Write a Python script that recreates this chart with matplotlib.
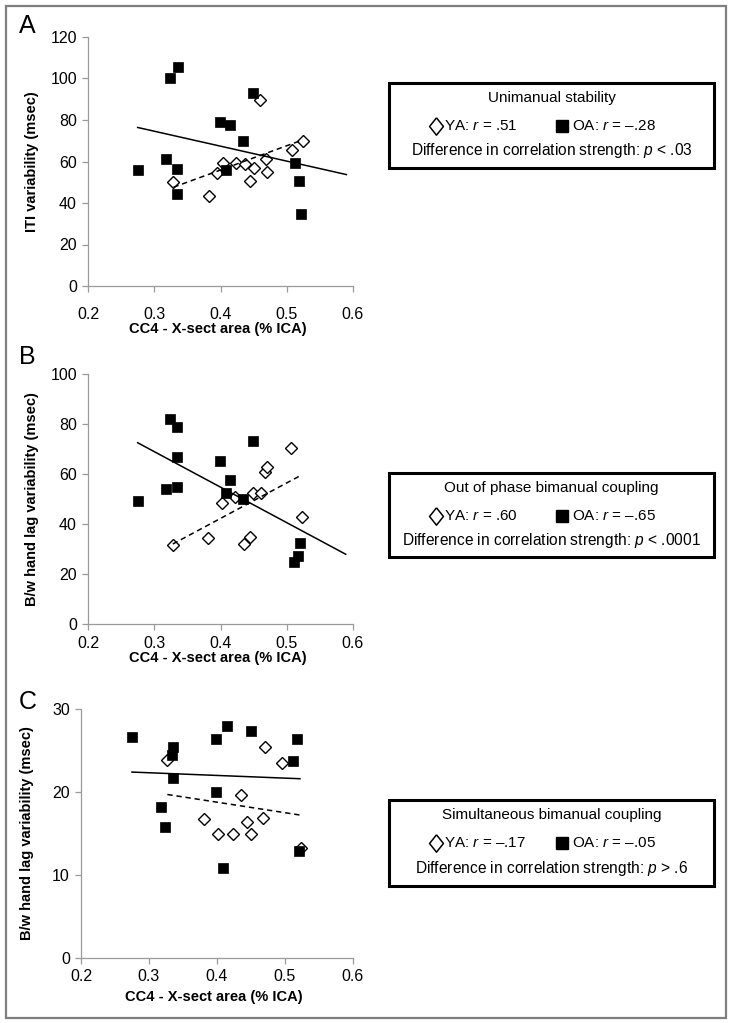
import matplotlib
matplotlib.use("Agg")
import matplotlib.pyplot as plt
from matplotlib.lines import Line2D
from matplotlib.patches import Rectangle

plt.rcParams['font.family'] = ['Liberation Sans', 'DejaVu Sans']
plt.rcParams['mathtext.fontset'] = 'custom'
plt.rcParams['mathtext.rm'] = 'Liberation Sans'
plt.rcParams['mathtext.it'] = 'Liberation Sans:italic'

# ---------------- data ----------------
x_ticks = [0.2, 0.3, 0.4, 0.5, 0.6]
x_tick_labels = ['0.2', '0.3', '0.4', '0.5', '0.6']
x_label = 'CC4 - X-sect area (% ICA)'

# Panel A: ITI variability
A_oa_x = [0.275, 0.324, 0.336, 0.318, 0.335, 0.335, 0.399, 0.414, 0.409, 0.434, 0.449, 0.512, 0.518, 0.521]
A_oa_y = [56.0, 100.2, 105.4, 61.4, 56.5, 44.4, 78.8, 77.4, 55.7, 70.0, 92.8, 59.4, 50.8, 34.7]
A_ya_x = [0.328, 0.383, 0.395, 0.404, 0.423, 0.437, 0.445, 0.451, 0.460, 0.468, 0.470, 0.508, 0.524]
A_ya_y = [49.9, 43.4, 54.4, 59.4, 59.4, 59.0, 50.8, 57.1, 89.4, 61.1, 54.9, 65.5, 69.8]
A_oa_fit_x = [0.275, 0.590]
A_oa_fit_y = [76.4, 53.7]
A_ya_fit_x = [0.329, 0.524]
A_ya_fit_y = [47.6, 70.4]
A_yticks = [0, 20, 40, 60, 80, 100, 120]

# Panel B: out of phase lag variability
B_oa_x = [0.275, 0.324, 0.335, 0.335, 0.318, 0.334, 0.399, 0.415, 0.408, 0.434, 0.449, 0.5115, 0.5165, 0.520]
B_oa_y = [49.2, 82.1, 78.7, 66.9, 54.0, 54.9, 65.3, 57.5, 52.3, 50.1, 73.1, 24.7, 27.3, 32.5]
B_ya_x = [0.328, 0.3815, 0.402, 0.422, 0.4355, 0.445, 0.449, 0.4605, 0.4665, 0.4705, 0.5065, 0.5225]
B_ya_y = [31.7, 34.5, 48.3, 50.8, 32.1, 34.7, 52.3, 52.5, 60.9, 62.9, 70.3, 42.9]
B_oa_fit_x = [0.275, 0.589]
B_oa_fit_y = [72.5, 27.9]
B_ya_fit_x = [0.328, 0.523]
B_ya_fit_y = [32.0, 59.7]
B_yticks = [0, 20, 40, 60, 80, 100]

# Panel C: simultaneous lag variability
C_oa_x = [0.275, 0.335, 0.334, 0.335, 0.317, 0.323, 0.398, 0.415, 0.399, 0.409, 0.450, 0.518, 0.512, 0.521]
C_oa_y = [26.6, 25.4, 24.4, 21.7, 18.2, 15.8, 26.4, 28.0, 20.05, 10.9, 27.4, 26.4, 23.7, 12.95]
C_ya_x = [0.327, 0.381, 0.402, 0.423, 0.436, 0.444, 0.450, 0.467, 0.471, 0.495, 0.523]
C_ya_y = [23.9, 16.8, 15.0, 14.9, 19.6, 16.4, 14.9, 16.9, 25.4, 23.5, 13.2]
C_oa_fit_x = [0.275, 0.522]
C_oa_fit_y = [22.4, 21.6]
C_ya_fit_x = [0.327, 0.524]
C_ya_fit_y = [19.7, 17.2]
C_yticks = [0, 10, 20, 30]

panel_letters = ['A', 'B', 'C']
y_labels = ['ITI variability (msec)', 'B/w hand lag variability (msec)', 'B/w hand lag variability (msec)']
box_titles = ['Unimanual stability', 'Out of phase bimanual coupling', 'Simultaneous bimanual coupling']
ya_r = ['.51', '.60', '\u2013.17']
oa_r = ['\u2013.28', '\u2013.65', '\u2013.05']
p_texts = ['< .03', '< .0001', '> .6']

# ---------------- layout ----------------
W, H = 734, 1023
fig = plt.figure(figsize=(W / 100, H / 100), dpi=100)


def fx(x):
    return x / W


def fy(y):
    return 1 - y / H


# outer frame
fig.add_artist(Rectangle((fx(6), fy(1018)), fx(726) - fx(6), fy(6) - fy(1018),
                         transform=fig.transFigure, fill=False, edgecolor='#7f7f7f', lw=1.6))

panels = [
    dict(ox=A_oa_x, oy=A_oa_y, yx=A_ya_x, yy=A_ya_y, ofx=A_oa_fit_x, ofy=A_oa_fit_y,
         yfx=A_ya_fit_x, yfy=A_ya_fit_y, yt=A_yticks,
         box=(88, 353, 37, 286), xpad=11, xlab_y=329, ylab_x=32, letter=(27, 26),
         lbox=(389, 714, 83, 168)),
    dict(ox=B_oa_x, oy=B_oa_y, yx=B_ya_x, yy=B_ya_y, ofx=B_oa_fit_x, ofy=B_oa_fit_y,
         yfx=B_ya_fit_x, yfy=B_ya_fit_y, yt=B_yticks,
         box=(88, 353, 374, 624), xpad=5, xlab_y=658, ylab_x=32, letter=(27, 357),
         lbox=(389, 714, 473, 557)),
    dict(ox=C_oa_x, oy=C_oa_y, yx=C_ya_x, yy=C_ya_y, ofx=C_oa_fit_x, ofy=C_oa_fit_y,
         yfx=C_ya_fit_x, yfy=C_ya_fit_y, yt=C_yticks,
         box=(81, 353, 709, 958), xpad=4, xlab_y=997, ylab_x=27, letter=(28, 702),
         lbox=(389, 714, 800, 886)),
]

legend_diamond = [(0, 1), (0.8, 0), (0, -1), (-0.8, 0), (0, 1)]

spine_col = '#9a9a9a'
for i, p in enumerate(panels):
    l, r, t, b = p['box']
    ax = fig.add_axes([fx(l), fy(b), fx(r) - fx(l), fy(t) - fy(b)])
    ax.set_xlim(0.2, 0.6)
    ax.set_ylim(p['yt'][0], p['yt'][-1])
    ax.set_xticks(x_ticks)
    ax.set_xticklabels(x_tick_labels)
    ax.set_yticks(p['yt'])
    for s in ['top', 'right']:
        ax.spines[s].set_visible(False)
    for s in ['left', 'bottom']:
        ax.spines[s].set_color(spine_col)
        ax.spines[s].set_linewidth(0.9)
    ax.tick_params(axis='both', direction='out', length=4, width=0.9, color=spine_col,
                   labelsize=11.5, labelcolor='black')
    ax.tick_params(axis='x', pad=p['xpad'])
    ax.tick_params(axis='y', pad=4)
    ax.patch.set_alpha(0)
    for sp in ax.spines.values():
        sp.set_clip_on(False)

    ax.plot(p['yx'], p['yy'], linestyle='none', marker='D', markersize=6.5,
            markerfacecolor='white', markeredgecolor='black', markeredgewidth=1.0,
            clip_on=False, zorder=3)
    ax.plot(p['ox'], p['oy'], linestyle='none', marker='s', markersize=7.5,
            markerfacecolor='black', markeredgecolor='black', markeredgewidth=0.5,
            clip_on=False, zorder=4)
    ax.plot(p['ofx'], p['ofy'], color='black', lw=1.1, zorder=5)
    ax.plot(p['yfx'], p['yfy'], color='black', lw=1.1, linestyle=(0, (3.5, 2.5)), zorder=5)

    fig.text(fx((l + r) / 2 - 3), fy(p['xlab_y']), x_label, ha='center', va='center',
             fontsize=10.5, fontweight='bold')
    fig.text(fx(p['ylab_x']), fy((t + b) / 2), y_labels[i], ha='center', va='center',
             rotation=90, fontsize=10.5, fontweight='bold')
    fig.text(fx(p['letter'][0]), fy(p['letter'][1]), panel_letters[i], ha='center',
             va='center', fontsize=18)

    # annotation box
    bl, br, bt, bb = p['lbox']
    fig.add_artist(Rectangle((fx(bl), fy(bb)), fx(br) - fx(bl), fy(bt) - fy(bb),
                             transform=fig.transFigure, fill=False, edgecolor='black', lw=2.2))
    cx = (bl + br) / 2
    fig.text(fx(cx), fy(bt + 15), box_titles[i], ha='center', va='center', fontsize=11)
    row2 = bt + 43
    fig.add_artist(Line2D([fx(436)], [fy(row2)], marker=legend_diamond, markersize=12.5,
                          markerfacecolor='white', markeredgecolor='black',
                          markeredgewidth=1.1, transform=fig.transFigure))
    fig.text(fx(444), fy(row2), 'YA: $r$ = ' + ya_r[i], ha='left', va='center', fontsize=11)
    fig.add_artist(Line2D([fx(562)], [fy(row2)], marker='s', markersize=8,
                          markerfacecolor='black', markeredgecolor='black',
                          transform=fig.transFigure))
    fig.text(fx(572), fy(row2), 'OA: $r$ = ' + oa_r[i], ha='left', va='center', fontsize=11)
    fig.text(fx(cx), fy(bt + 68), 'Difference in correlation strength: $p$ ' + p_texts[i],
             ha='center', va='center', fontsize=11.2)

fig.savefig('out.png', dpi=100)
